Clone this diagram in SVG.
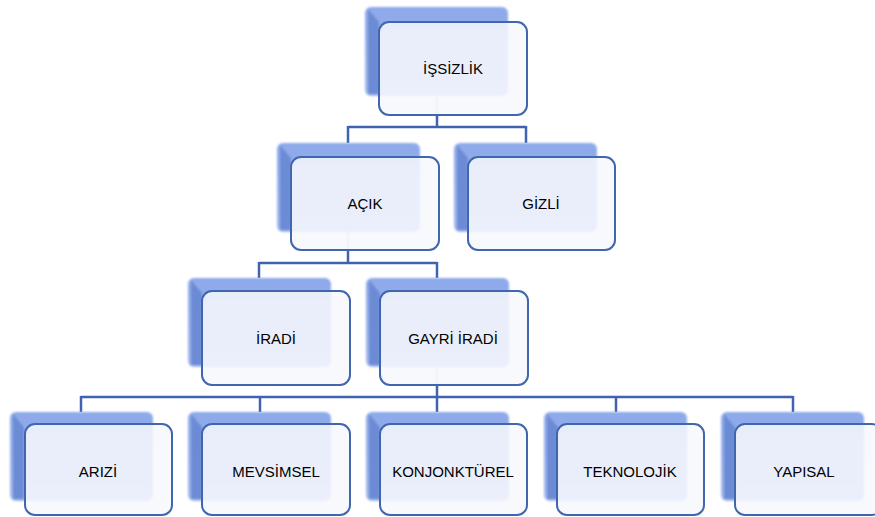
<svg xmlns="http://www.w3.org/2000/svg" width="875" height="517" viewBox="0 0 875 517">
<defs>
<style>
.conn{stroke:#4063B0;stroke-width:2.5;fill:none}
.faint{stroke:#D4DCEC;stroke-width:3;fill:none}
.back{fill:url(#backGrad)}
.bevel{fill:#6C8BD5}
.front{fill:#F7F8FD;fill-opacity:0.86;stroke:#4066B0;stroke-width:2}
.lbl{font-family:"Liberation Sans",Arial,sans-serif;font-size:15px;fill:#000000;text-anchor:middle}
</style>
<linearGradient id="backGrad" x1="0" y1="0" x2="0" y2="1">
<stop offset="0" stop-color="#8DA9EA"/>
<stop offset="1" stop-color="#A0B6EC"/>
</linearGradient>
<filter id="soft" x="-5%" y="-5%" width="110%" height="110%">
<feGaussianBlur stdDeviation="0.9"/>
</filter>
<g id="backShape">
<rect x="0" y="0" width="143" height="89" rx="6" class="back"/>
<path d="M3,2 L14,15 L14,87 L3,87 Z" class="bevel"/>
</g>
</defs>
<rect width="875" height="517" fill="#FFFFFF"/>
<g id="connectors">
<path class="faint" d="M437,97 V116 M348,230 V250 M437,366 V386"/>
<path class="conn" d="M437,115 V127 M348,127 H526 M348,126 V143 M526,126 V143"/>
<path class="conn" d="M348,250 V263 M259,263 H437 M259,262 V278 M437,262 V278"/>
<path class="conn" d="M437,386 V397 M81,397 H793 M81,396 V412 M260,396 V412 M437,396 V412 M616,396 V412 M793,396 V412"/>
</g>
<g id="n-issizlik">
<use href="#backShape" x="365" y="7" filter="url(#soft)"/>
<rect class="front" x="379" y="22" width="148" height="93" rx="10"/>
<text class="lbl" x="453" y="74">İŞSİZLİK</text>
</g>
<g id="n-acik">
<use href="#backShape" x="277" y="143" filter="url(#soft)"/>
<rect class="front" x="291" y="157" width="148" height="93" rx="10"/>
<text class="lbl" x="365" y="209">AÇIK</text>
</g>
<g id="n-gizli">
<use href="#backShape" x="454" y="143" filter="url(#soft)"/>
<rect class="front" x="468" y="157" width="147" height="93" rx="10"/>
<text class="lbl" x="541" y="209">GİZLİ</text>
</g>
<g id="n-iradi">
<use href="#backShape" x="188" y="278" filter="url(#soft)"/>
<rect class="front" x="202" y="291" width="148" height="94" rx="10"/>
<text class="lbl" x="276" y="344">İRADİ</text>
</g>
<g id="n-gayri-iradi">
<use href="#backShape" x="366" y="278" filter="url(#soft)"/>
<rect class="front" x="380" y="291" width="148" height="94" rx="10"/>
<text class="lbl" x="453" y="344">GAYRİ İRADİ</text>
</g>
<g id="n-arizi">
<use href="#backShape" x="10" y="412" filter="url(#soft)"/>
<rect class="front" x="25" y="424" width="147" height="91" rx="10"/>
<text class="lbl" x="98" y="477">ARIZİ</text>
</g>
<g id="n-mevsimsel">
<use href="#backShape" x="188" y="412" filter="url(#soft)"/>
<rect class="front" x="202" y="424" width="148" height="91" rx="10"/>
<text class="lbl" x="276" y="477">MEVSİMSEL</text>
</g>
<g id="n-konjonkturel">
<use href="#backShape" x="366" y="412" filter="url(#soft)"/>
<rect class="front" x="380" y="424" width="147" height="91" rx="10"/>
<text class="lbl" x="453" y="477">KONJONKTÜREL</text>
</g>
<g id="n-teknolojik">
<use href="#backShape" x="544" y="412" filter="url(#soft)"/>
<rect class="front" x="557" y="424" width="147" height="91" rx="10"/>
<text class="lbl" x="630" y="477">TEKNOLOJİK</text>
</g>
<g id="n-yapisal">
<use href="#backShape" x="721" y="412" filter="url(#soft)"/>
<rect class="front" x="735" y="424" width="147" height="91" rx="10"/>
<text class="lbl" x="804" y="477">YAPISAL</text>
</g>
</svg>
